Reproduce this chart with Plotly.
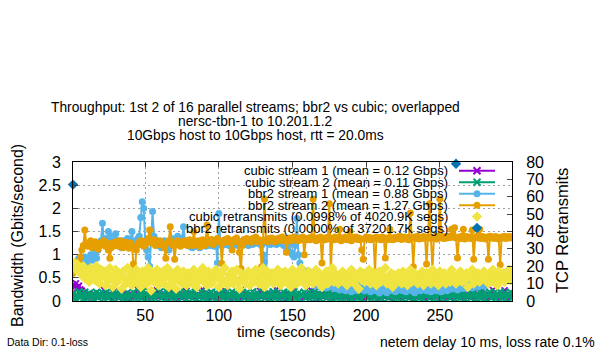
import plotly.graph_objects as go

# ---------------- data ----------------
t = list(range(1, 300))

cubic1 = [
    0.35,0.30,0.38,0.28,0.33,0.25,0.22,0.18,0.15,0.12,0.10,0.14,0.08,0.12,0.16,0.10,0.13,0.09,0.14,0.11,
    0.12,0.24,0.09,0.13,0.10,0.15,0.02,0.11,0.14,0.09,0.12,0.22,0.10,0.13,0.08,0.12,0.15,0.10,0.03,0.12,
    0.14,0.09,0.11,0.13,0.25,0.10,0.12,0.08,0.14,0.11,0.09,0.13,0.02,0.12,0.10,0.15,0.11,0.23,0.09,0.12,
    0.13,0.10,0.14,0.08,0.12,0.11,0.24,0.10,0.13,0.09,0.12,0.02,0.14,0.10,0.11,0.13,0.09,0.22,0.12,0.10,
    0.11,0.14,0.09,0.12,0.02,0.13,0.10,0.12,0.25,0.09,0.11,0.14,0.10,0.12,0.08,0.13,0.11,0.02,0.12,0.10,
    0.12,0.10,0.13,0.23,0.09,0.12,0.11,0.14,0.02,0.10,0.12,0.13,0.09,0.11,0.24,0.10,0.12,0.08,0.13,0.11,
    0.10,0.12,0.02,0.13,0.11,0.09,0.12,0.22,0.10,0.13,0.11,0.08,0.12,0.14,0.02,0.10,0.12,0.11,0.25,0.09,
    0.12,0.11,0.13,0.10,0.02,0.12,0.14,0.09,0.11,0.23,0.10,0.12,0.13,0.08,0.11,0.02,0.12,0.10,0.14,0.11,
    0.09,0.12,0.22,0.11,0.13,0.10,0.02,0.12,0.11,0.14,0.09,0.12,0.24,0.10,0.11,0.13,0.02,0.12,0.10,0.11,
    0.13,0.09,0.12,0.11,0.25,0.10,0.12,0.02,0.13,0.11,0.09,0.12,0.14,0.10,0.23,0.11,0.12,0.02,0.10,0.13,
    0.11,0.12,0.09,0.22,0.10,0.13,0.11,0.02,0.12,0.10,0.14,0.11,0.09,0.24,0.12,0.10,0.13,0.02,0.11,0.12,
    0.10,0.13,0.11,0.02,0.12,0.25,0.09,0.11,0.13,0.10,0.12,0.02,0.11,0.14,0.09,0.23,0.12,0.10,0.11,0.13,
    0.02,0.11,0.12,0.10,0.22,0.13,0.09,0.12,0.11,0.02,0.14,0.10,0.12,0.11,0.24,0.09,0.13,0.10,0.02,0.12,
    0.11,0.13,0.10,0.25,0.12,0.09,0.02,0.11,0.13,0.12,0.10,0.23,0.11,0.02,0.12,0.14,0.10,0.11,0.22,0.09,
    0.12,0.02,0.11,0.13,0.10,0.24,0.12,0.09,0.11,0.02,0.13,0.10,0.12,0.23,0.11,0.02,0.12,0.10,0.13,
]

cubic2 = [
    0.06,0.18,0.04,0.12,0.20,0.08,0.15,0.05,0.19,0.11,0.06,0.17,0.09,0.14,0.04,0.12,0.19,0.07,0.15,0.10,
    0.18,0.05,0.12,0.20,0.07,0.14,0.10,0.19,0.04,0.12,0.17,0.06,0.15,0.21,0.05,0.12,0.09,0.18,0.06,0.14,
    0.11,0.19,0.05,0.14,0.09,0.18,0.06,0.20,0.12,0.04,0.15,0.09,0.19,0.06,0.12,0.18,0.05,0.14,0.10,0.20,
    0.06,0.15,0.12,0.04,0.19,0.09,0.17,0.06,0.12,0.20,0.05,0.14,0.10,0.18,0.06,0.12,0.19,0.04,0.15,0.09,
    0.18,0.06,0.12,0.19,0.05,0.14,0.09,0.20,0.06,0.12,0.17,0.04,0.15,0.10,0.19,0.06,0.12,0.18,0.05,0.14,
    0.09,0.19,0.06,0.12,0.18,0.05,0.15,0.09,0.20,0.06,0.12,0.17,0.04,0.14,0.10,0.19,0.06,0.12,0.18,0.05,
    0.15,0.09,0.20,0.06,0.12,0.18,0.04,0.14,0.10,0.19,0.06,0.12,0.17,0.05,0.15,0.09,0.20,0.06,0.12,0.18,
    0.04,0.14,0.10,0.19,0.06,0.12,0.18,0.05,0.15,0.09,0.20,0.06,0.12,0.17,0.04,0.14,0.10,0.19,0.06,0.12,
    0.18,0.05,0.15,0.09,0.20,0.06,0.12,0.17,0.04,0.14,0.10,0.19,0.06,0.12,0.18,0.05,0.15,0.09,0.20,0.06,
    0.12,0.18,0.04,0.14,0.10,0.19,0.06,0.12,0.17,0.05,0.15,0.09,0.20,0.06,0.12,0.18,0.04,0.14,0.10,0.19,
    0.06,0.12,0.18,0.05,0.15,0.09,0.20,0.06,0.12,0.17,0.04,0.14,0.10,0.19,0.06,0.12,0.18,0.05,0.15,0.09,
    0.20,0.06,0.12,0.17,0.04,0.14,0.10,0.19,0.06,0.12,0.18,0.05,0.15,0.09,0.20,0.06,0.12,0.17,0.04,0.14,
    0.10,0.19,0.06,0.12,0.18,0.05,0.15,0.09,0.20,0.06,0.12,0.17,0.04,0.14,0.10,0.19,0.06,0.12,0.18,0.05,
    0.15,0.09,0.20,0.06,0.12,0.17,0.04,0.14,0.10,0.19,0.06,0.12,0.18,0.05,0.15,0.09,0.20,0.06,0.12,0.17,
    0.04,0.14,0.10,0.19,0.06,0.12,0.18,0.05,0.15,0.09,0.20,0.06,0.12,0.17,0.04,0.14,0.10,0.19,0.06,
]

bbr2_1 = [
    0.70,0.75,0.80,0.88,0.92,0.85,0.80,0.90,0.95,0.85,0.82,0.90,1.00,0.88,0.95,1.05,0.92,1.10,1.20,1.30,
    1.68,1.25,1.35,1.20,1.50,1.30,1.40,1.25,1.35,1.45,1.20,1.30,1.25,1.15,1.30,1.22,1.28,1.35,1.20,1.30,
    1.50,1.25,1.20,1.30,1.35,1.40,1.80,2.14,2.00,1.30,1.10,0.95,0.75,1.30,1.93,1.40,1.25,1.30,1.20,1.28,
    1.15,1.22,1.30,1.18,1.25,1.10,1.28,1.35,1.20,1.30,1.25,1.40,1.30,1.22,1.35,1.60,1.30,1.25,1.20,1.18,
    1.25,1.15,1.20,1.28,1.18,1.22,1.15,1.25,1.20,1.30,1.18,1.22,1.25,1.20,1.28,1.22,1.18,1.25,0.82,1.89,
    1.25,1.20,1.28,1.22,1.30,1.25,1.20,1.28,1.24,1.30,1.22,1.26,1.20,1.28,1.25,1.22,1.30,1.24,1.28,1.20,
    1.26,1.30,1.22,1.28,1.25,1.30,1.24,1.28,1.20,1.00,0.85,0.60,1.25,1.28,1.22,1.30,1.25,1.28,1.22,1.26,
    1.30,1.24,1.28,1.20,1.25,1.10,1.28,1.22,1.05,1.00,0.95,1.20,1.78,1.00,0.82,0.70,0.60,0.55,0.65,0.50,
    0.40,0.55,0.62,0.48,0.40,0.33,0.45,0.38,0.30,0.42,0.35,0.52,0.28,0.38,0.32,0.42,0.30,0.36,0.27,0.40,
    0.32,0.24,0.37,0.30,0.42,0.22,0.34,0.27,0.40,0.20,0.32,0.28,0.37,0.22,0.30,0.34,0.25,0.38,0.22,0.32,
    0.27,0.36,0.20,0.30,0.24,0.37,0.22,0.32,0.17,0.28,0.34,0.22,0.30,0.18,0.32,0.26,0.36,0.22,0.28,0.20,
    0.32,0.24,0.37,0.27,0.22,0.34,0.20,0.30,0.25,0.36,0.22,0.28,0.18,0.32,0.24,0.37,0.22,0.30,0.26,0.34,
    0.22,0.32,0.27,0.20,0.37,0.24,0.30,0.22,0.34,0.27,0.20,0.32,0.25,0.37,0.22,0.30,0.34,0.26,0.32,0.28,
    0.36,0.24,0.32,0.28,0.40,0.27,0.34,0.30,0.37,0.32,0.42,0.28,0.36,0.32,0.44,0.30,0.38,0.34,0.47,0.32,
    0.48,0.44,0.52,0.40,0.50,0.46,0.55,0.42,0.58,0.48,0.60,0.45,0.55,0.62,0.50,0.58,0.65,0.52,0.60,
]

bbr2_2 = [
    0.60,0.72,0.68,0.80,0.85,0.95,1.10,1.20,1.53,1.25,1.18,1.22,1.30,1.15,1.20,1.28,1.24,1.12,1.20,1.26,
    1.22,1.30,1.18,1.25,1.10,0.92,1.15,1.25,1.20,1.28,1.22,1.18,1.30,1.24,1.15,1.20,1.27,1.22,1.14,1.25,
    1.18,0.80,0.67,1.10,1.25,1.22,1.30,1.25,1.18,1.28,1.24,1.35,1.53,1.30,1.25,1.32,1.20,1.28,1.22,1.30,
    1.26,1.20,1.15,0.92,1.25,1.30,1.60,1.28,1.20,0.90,1.22,1.30,1.25,1.18,1.28,1.22,1.30,1.26,1.20,1.32,
    1.25,1.20,1.50,1.28,1.22,1.30,1.17,1.25,1.32,1.20,1.28,1.64,1.30,1.25,1.33,1.22,1.30,1.27,1.35,1.28,
    1.30,0.81,1.25,1.32,1.28,1.35,1.30,1.26,1.10,1.32,1.28,1.36,1.30,1.05,0.70,1.20,1.33,1.28,1.35,1.30,
    1.32,1.27,1.35,1.30,1.38,1.28,1.33,1.30,0.74,1.30,2.20,1.32,1.28,1.35,1.30,1.36,1.32,1.28,1.34,1.30,
    1.36,1.32,1.38,1.30,1.34,1.05,1.32,1.36,1.30,1.34,1.38,1.32,1.35,1.30,1.36,1.33,1.38,1.00,1.34,1.32,
    1.36,1.32,1.38,2.20,1.34,1.30,1.36,1.33,1.38,0.82,1.35,1.32,1.37,1.34,2.10,0.67,1.36,1.32,1.38,1.35,
    1.33,1.55,1.30,1.36,1.34,1.38,1.32,1.36,1.50,1.30,1.37,1.35,1.38,1.33,1.36,1.32,1.10,0.90,1.35,1.38,
    1.34,1.37,1.32,1.36,1.35,0.63,1.38,1.34,1.36,1.32,1.38,1.35,0.93,1.36,1.33,1.55,1.35,1.32,1.37,1.34,
    1.38,1.35,1.40,1.33,1.36,1.38,1.34,1.37,1.32,1.90,1.36,0.74,1.38,1.35,1.40,1.34,1.37,1.35,1.39,1.36,
    0.80,1.38,2.10,1.35,0.67,1.37,1.40,1.34,1.38,2.20,1.36,1.39,1.35,1.38,1.36,1.40,1.37,1.55,1.38,1.58,
    1.36,0.93,1.38,1.35,1.40,1.55,1.34,1.39,1.36,1.38,1.35,1.53,0.90,1.37,1.40,1.36,1.55,1.35,1.39,1.37,
    1.34,1.38,0.90,1.40,1.36,1.38,1.35,1.39,1.37,1.34,0.78,1.38,1.36,1.40,1.35,1.37,1.39,1.36,1.38,
]

cubic_retr = [
    20,22,18,21,17,19,15,20,13,18,16,11,19,14,17,12,20,15,10,18,
    14,17,9,16,12,19,13,8,15,18,11,16,14,7,17,13,10,19,12,15,
    9,16,13,18,11,14,8,17,12,15,10,19,13,6,16,11,14,18,9,15,
    12,17,10,14,19,8,13,16,11,15,7,18,12,14,10,17,13,9,16,12,
    15,10,18,13,8,16,12,14,19,11,15,9,17,13,10,16,12,18,14,8,
    13,16,11,19,12,9,15,14,17,10,13,18,11,7,16,12,15,10,14,17,
    9,13,16,11,18,14,10,15,12,19,8,14,17,11,13,16,10,15,12,18,
    14,9,16,12,17,11,15,13,8,18,12,14,10,16,13,19,11,15,9,14,
    17,12,15,10,13,18,11,16,14,8,15,12,17,10,14,13,19,11,16,12,
    10,15,13,17,11,14,9,16,12,18,13,10,15,14,7,17,12,16,11,14,
    13,18,10,15,12,16,9,14,17,11,15,13,19,10,14,12,16,8,15,13,
    11,16,14,10,17,12,15,9,13,18,11,14,16,12,10,15,13,17,9,14,
    16,12,14,10,18,13,11,15,9,17,12,14,16,10,13,15,11,18,12,14,
    10,15,13,17,11,14,12,16,8,15,13,18,10,14,12,16,11,15,13,17,
    12,14,10,16,13,18,11,15,9,17,12,14,16,11,15,13,18,12,14,
]

bbr2_retr_t = [1, 261]
bbr2_retr = [67, 79]

legend_labels = [
    "cubic stream 1 (mean = 0.12 Gbps)",
    "cubic stream 2 (mean = 0.11 Gbps)",
    "bbr2 stream 1 (mean = 0.88 Gbps)",
    "bbr2 stream 2 (mean = 1.27 Gbps)",
    "cubic retransmits (0.0998% of 4020.9K segs)",
    "bbr2 retransmits (0.0000% of 37201.7K segs)",
]
x_ticks = [50, 100, 150, 200, 250]

title_lines = [
    "Throughput: 1st 2 of 16 parallel streams; bbr2 vs cubic; overlapped",
    "nersc-tbn-1 to 10.201.1.2",
    "10Gbps host to 10Gbps host, rtt = 20.0ms",
]

# ---------------- style ----------------
PURPLE = "#9400d3"
GREEN = "#009e73"
LBLUE = "#56b4e9"
ORANGE = "#e69f00"
YELLOW = "#f0e442"
DBLUE = "#0072b2"
FONT = "Liberation Sans, Arial, sans-serif"

W, H = 600, 350
L, R, T, B = 73, 88, 162, 49
PX0, PX1 = L, W - R
PY1, PY0 = T, H - B


def fx(p):
    return (p - PX0) / (PX1 - PX0)


def fy(p):
    return (PY0 - p) / (PY0 - PY1)


fig = go.Figure()

fig.add_trace(go.Scatter(x=t, y=cubic1, mode="lines+markers",
                         line=dict(color=PURPLE, width=2),
                         marker=dict(symbol="x-thin", size=6, line=dict(color=PURPLE, width=2)),
                         showlegend=False))
fig.add_trace(go.Scatter(x=t, y=cubic2, mode="lines+markers",
                         line=dict(color=GREEN, width=2),
                         marker=dict(symbol="x-thin", size=7, line=dict(color=GREEN, width=2)),
                         showlegend=False))
fig.add_trace(go.Scatter(x=t, y=bbr2_1, mode="lines+markers",
                         line=dict(color=LBLUE, width=2),
                         marker=dict(symbol="circle", size=7, color=LBLUE),
                         showlegend=False))
fig.add_trace(go.Scatter(x=t, y=bbr2_2, mode="lines+markers",
                         line=dict(color=ORANGE, width=2),
                         marker=dict(symbol="circle", size=7, color=ORANGE),
                         showlegend=False))
fig.add_trace(go.Scatter(x=t, y=cubic_retr, mode="markers", yaxis="y2",
                         marker=dict(symbol="diamond", size=8, color=YELLOW),
                         showlegend=False))
fig.add_trace(go.Scatter(x=bbr2_retr_t, y=bbr2_retr, mode="markers", yaxis="y2",
                         marker=dict(symbol="diamond", size=8, color=DBLUE),
                         cliponaxis=False, showlegend=False))

# ---- gnuplot-style key: text right-aligned, sample to the right ----
key_rows_px = [170.7, 182.3, 193.7, 205.2, 216.6, 228.0]
key_text_right = 450
key_line = (459, 495)
key_mark = 477
styles = [
    ("lm", PURPLE, "x-thin"),
    ("lm", GREEN, "x-thin"),
    ("lm", LBLUE, "circle"),
    ("lm", ORANGE, "circle"),
    ("m", YELLOW, "diamond"),
    ("m", DBLUE, "diamond"),
]
annotations = []
for lab, ypx, (kind, col, sym) in zip(legend_labels, key_rows_px, styles):
    annotations.append(dict(text=lab, xref="paper", yref="paper", x=fx(key_text_right), y=fy(ypx),
                            xanchor="right", yanchor="middle", showarrow=False,
                            font=dict(size=13, color="black", family=FONT)))
    if kind == "lm":
        fig.add_trace(go.Scatter(x=[fx(key_line[0]), fx(key_line[1])], y=[fy(ypx)] * 2,
                                 mode="lines", line=dict(color=col, width=2),
                                 xaxis="x3", yaxis="y3", showlegend=False, hoverinfo="skip"))
    if sym == "x-thin":
        mk = dict(symbol=sym, size=7, line=dict(color=col, width=2))
    elif sym == "circle":
        mk = dict(symbol=sym, size=7, color=col)
    else:
        mk = dict(symbol=sym, size=8, color=col)
    fig.add_trace(go.Scatter(x=[fx(key_mark)], y=[fy(ypx)], mode="markers", marker=mk,
                             xaxis="x3", yaxis="y3", showlegend=False, hoverinfo="skip",
                             cliponaxis=False))

# titles
for line, ypx in zip(title_lines, [107.5, 121.5, 135.0]):
    annotations.append(dict(text=line, xref="paper", yref="paper", x=fx(255), y=fy(ypx),
                            xanchor="center", yanchor="middle", showarrow=False,
                            font=dict(size=13.8, color="black", family=FONT)))
# axis titles
annotations.append(dict(text="Bandwidth (Gbits/second)", xref="paper", yref="paper",
                        x=fx(17), y=fy(236), textangle=-90, xanchor="center", yanchor="middle",
                        showarrow=False, font=dict(size=16, color="black", family=FONT)))
annotations.append(dict(text="TCP Retransmits", xref="paper", yref="paper",
                        x=fx(562), y=fy(231), textangle=-90, xanchor="center", yanchor="middle",
                        showarrow=False, font=dict(size=16.5, color="black", family=FONT)))
annotations.append(dict(text="time (seconds)", xref="paper", yref="paper",
                        x=fx(286), y=fy(331), xanchor="center", yanchor="middle",
                        showarrow=False, font=dict(size=15, color="black", family=FONT)))
annotations.append(dict(text="Data Dir: 0.1-loss", xref="paper", yref="paper",
                        x=fx(5), y=fy(342), xanchor="left", yanchor="middle",
                        showarrow=False, font=dict(size=10.5, color="black", family=FONT)))
annotations.append(dict(text="netem delay 10 ms, loss rate 0.1%", xref="paper", yref="paper",
                        x=fx(597), y=fy(342), xanchor="right", yanchor="middle",
                        showarrow=False, font=dict(size=14, color="black", family=FONT)))

shapes = [dict(type="rect", xref="paper", yref="paper", x0=fx(203), x1=fx(505),
               y0=fy(236), y1=1.0, fillcolor="white", line=dict(width=0), layer="between")]

grid = dict(showgrid=True, gridcolor="#a0a0a0", gridwidth=1, griddash="2px,3px")
tickfont = dict(family=FONT, size=16, color="black")

fig.update_layout(
    width=W, height=H,
    margin=dict(l=L, r=R, t=T, b=B, pad=0),
    paper_bgcolor="white", plot_bgcolor="white",
    font=dict(family=FONT, size=15, color="black"),
    showlegend=False,
    annotations=annotations,
    shapes=shapes,
    xaxis=dict(range=[1, 299], tickvals=x_ticks, ticks="inside", ticklen=5,
               showline=True, linecolor="black", linewidth=1, mirror="ticks",
               zeroline=False, ticklabelstandoff=0, tickfont=tickfont, **grid),
    yaxis=dict(range=[0, 3], dtick=0.5, ticks="inside", ticklen=5,
               showline=True, linecolor="black", linewidth=1, mirror=False,
               zeroline=False, ticklabelstandoff=8, tickfont=tickfont, **grid),
    yaxis2=dict(range=[0, 80], dtick=10, overlaying="y", side="right", ticks="inside",
                ticklen=5, showline=True, linecolor="black", linewidth=1, showgrid=False,
                zeroline=False, ticklabelstandoff=10, tickfont=tickfont),
    xaxis3=dict(overlaying="x", range=[0, 1], visible=False),
    yaxis3=dict(overlaying="y", range=[0, 1], visible=False),
)

fig.write_html("out.html")
